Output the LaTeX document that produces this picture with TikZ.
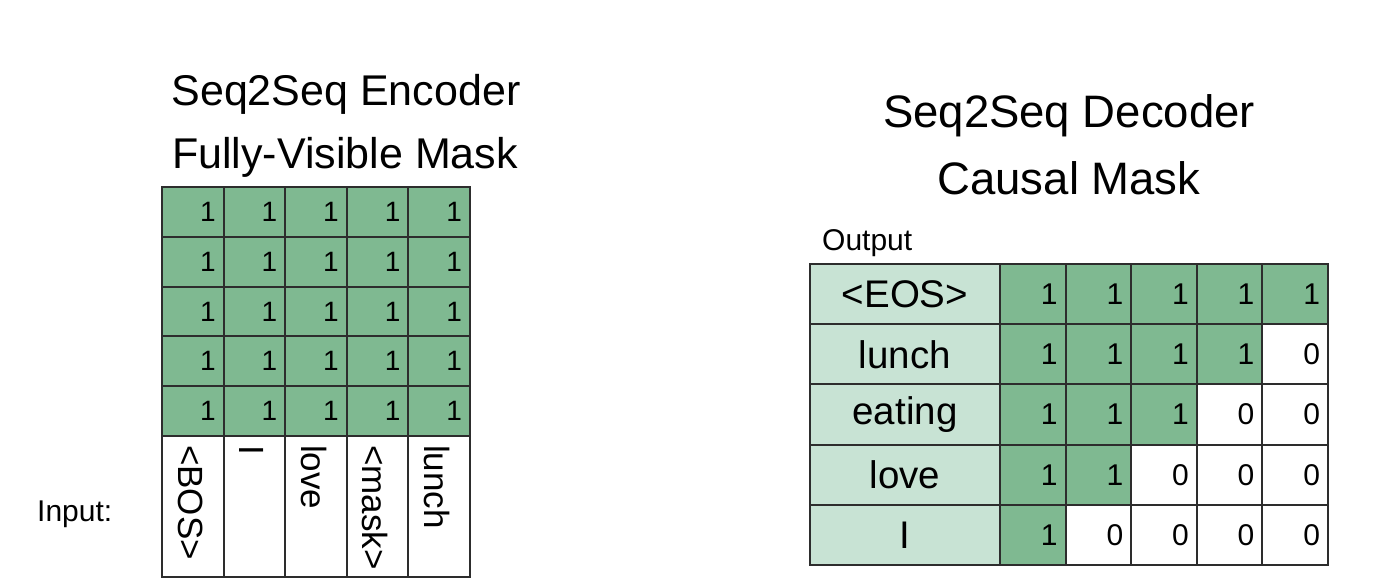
\documentclass[tikz,border=0pt]{standalone}
\usepackage{fontspec}
\setmainfont{Liberation Sans}
\definecolor{mgreen}{RGB}{127,185,145}
\definecolor{lgreen}{RGB}{200,227,212}
\definecolor{gline}{RGB}{45,45,45}
\begin{document}
\begin{tikzpicture}[x=1pt,y=-1pt,
  title/.style={font=\fontsize{43}{50}\selectfont, inner sep=0pt, anchor=base},
  dtitle/.style={font=\fontsize{45.5}{52}\selectfont, inner sep=0pt, anchor=base},
  small/.style={font=\fontsize{30}{34}\selectfont, inner sep=0pt, anchor=base west},
  ecell/.style={draw=gline, line width=2pt, fill=mgreen, rectangle, minimum width=61.6pt, minimum height=49.8pt, inner xsep=8pt, inner ysep=0pt, text width=45.6pt, align=right, font=\fontsize{28}{32}\selectfont},
  elab/.style={draw=gline, line width=2pt, fill=white, rectangle, minimum width=61.6pt, minimum height=141pt, inner sep=0pt},
  rtext/.style={rotate=-90, anchor=base west, inner sep=0pt, font=\fontsize{35}{40}\selectfont},
  dcell/.style={draw=gline, line width=2pt, rectangle, minimum width=65.6pt, minimum height=60.2pt, inner xsep=8pt, inner ysep=0pt, text width=49.6pt, align=right, font=\fontsize{30}{34}\selectfont},
  dlab/.style={draw=gline, line width=2pt, fill=lgreen, rectangle, minimum width=190pt, minimum height=60.2pt, inner sep=0pt, font=\fontsize{38.5}{44}\selectfont}
]
\useasboundingbox[fill=white] (0,0) rectangle (1374,586);
% Encoder titles
\node[title] (et1) at (346,106) {Seq2Seq Encoder};
\node[title] (et2) at (345,168) {Fully-Visible Mask};
% Encoder grid
\foreach \r in {0,...,4}{
  \foreach \c in {0,...,4}{
    \node[ecell] (e-\r-\c) at ({162+61.6*(\c+0.5)},{187+49.8*(\r+0.5)}) {1};
  }
}
% Input labels
\foreach \c/\t in {0/{<BOS>},1/{I},2/{love},3/{<mask>},4/{lunch}}{
  \node[elab] (in-\c) at ({162+61.6*(\c+0.5)},{436+70.5}) {};
  \node[rtext] (int-\c) at ({162+61.6*\c+16},{445}) {\t};
}
\node[small] (inp) at (37,521) {Input:};
% Decoder titles
\node[dtitle] (dt1) at (1069,128) {Seq2Seq Decoder};
\node[dtitle] (dt2) at (1069,194) {Causal Mask};
\node[small] (outp) at (822,250) {Output};
% Decoder grid
\foreach \r/\t in {0/{<EOS>},1/{lunch},2/{eating},3/{love},4/{I}}{
  \node[dlab] (dl-\r) at (905,{264+60.2*(\r+0.5)}) {\t};
  \foreach \c in {0,...,4}{
    \pgfmathtruncatemacro{\v}{(\c+\r)<=4 ? 1 : 0}
    \ifnum\v=1
      \node[dcell, fill=mgreen] (d-\r-\c) at ({1000+65.6*(\c+0.5)},{264+60.2*(\r+0.5)}) {1};
    \else
      \node[dcell, fill=white] (d-\r-\c) at ({1000+65.6*(\c+0.5)},{264+60.2*(\r+0.5)}) {0};
    \fi
  }
}
\end{tikzpicture}
\end{document}
